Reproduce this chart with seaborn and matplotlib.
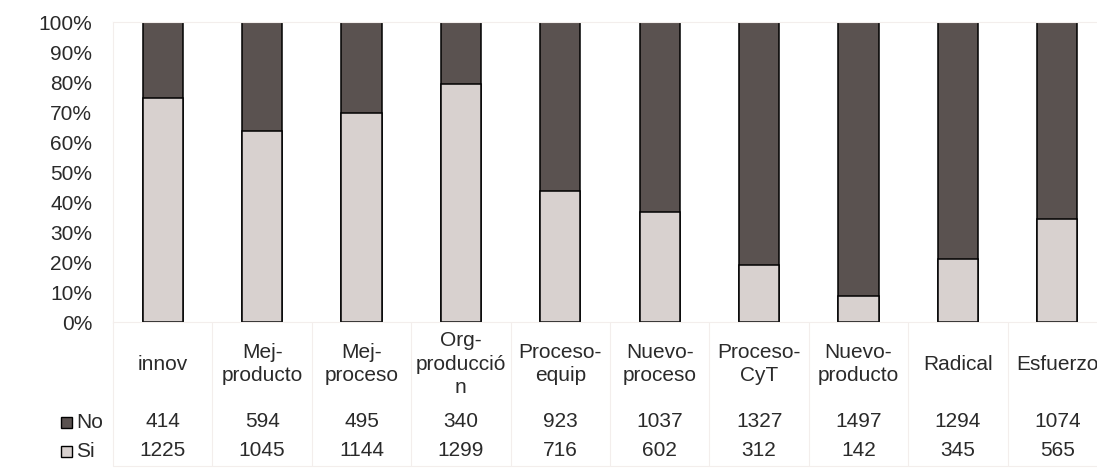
import matplotlib
matplotlib.use("Agg")
import matplotlib.pyplot as plt
from matplotlib.patches import Rectangle
from matplotlib.transforms import blended_transform_factory
import seaborn as sns
import pandas as pd

categories = ["innov", "Mej-\nproducto", "Mej-\nproceso", "Org-\nproducció\nn",
              "Proceso-\nequip", "Nuevo-\nproceso", "Proceso-\nCyT", "Nuevo-\nproducto",
              "Radical", "Esfuerzo"]
no_counts = [414, 594, 495, 340, 923, 1037, 1327, 1497, 1294, 1074]
si_counts = [1225, 1045, 1144, 1299, 716, 602, 312, 142, 345, 565]
series_names = ["No", "Si"]
ytick_labels = [f"{v}%" for v in range(0, 101, 10)]

dark = "#5a5250"
light = "#d8d1cf"
faint = "#f3eeec"
txt = "#2a2a2a"
fs = 15

sns.set_style("white")
plt.rcParams["font.family"] = ["Liberation Sans", "DejaVu Sans"]

df = pd.DataFrame({"cat": categories, "No": no_counts, "Si": si_counts})
df["total"] = df["No"] + df["Si"]
df["pct_total"] = 100.0 * df["total"] / df["total"]
df["pct_si"] = 100.0 * df["Si"] / df["total"]

W, H = 1097, 470
fig = plt.figure(figsize=(W / 100, H / 100), dpi=100)
left_px, right_px, top_px, bot_px = 113, 1107, 22, 322
ax = fig.add_axes([left_px / W, 1 - bot_px / H, (right_px - left_px) / W, (bot_px - top_px) / H])

sns.barplot(data=df, x="cat", y="pct_total", order=categories, color=dark,
            width=0.405, edgecolor="black", linewidth=1.1, saturation=1, ax=ax)
sns.barplot(data=df, x="cat", y="pct_si", order=categories, color=light,
            width=0.405, edgecolor="black", linewidth=1.1, saturation=1, ax=ax)

ax.set_ylim(0, 100)
ax.set_xlim(-0.5, len(categories) - 0.5)
ax.set_yticks(range(0, 101, 10))
ax.set_yticklabels(ytick_labels, fontsize=fs, color=txt)
ax.tick_params(axis="y", length=0, pad=15)
ax.set_xticks([])
ax.set_xlabel("")
ax.set_ylabel("")
for s in ax.spines.values():
    s.set_color(faint)
    s.set_linewidth(0.8)

# data table below the plot
def fy(py):
    return 1 - py / H

trans = blended_transform_factory(ax.transData, fig.transFigure)
for i, cat in enumerate(categories):
    ax.text(i, fy(364), cat, transform=trans, ha="center", va="center",
            fontsize=fs, color=txt, linespacing=1.32, clip_on=False)
    ax.text(i, fy(421.5), str(no_counts[i]), transform=trans, ha="center", va="center",
            fontsize=fs, color=txt, clip_on=False)
    ax.text(i, fy(451), str(si_counts[i]), transform=trans, ha="center", va="center",
            fontsize=fs, color=txt, clip_on=False)

# faint table rules
for i in range(len(categories) + 1):
    x = i - 0.5
    ax.plot([x, x], [fy(322), fy(466)], transform=trans, color=faint, lw=0.8, clip_on=False)
ax.plot([-0.5, len(categories) - 0.5], [fy(466), fy(466)], transform=trans,
        color=faint, lw=0.8, clip_on=False)

# row legend keys
for name, py, col in zip(series_names, [422, 451], [dark, light]):
    fig.patches.append(Rectangle((61 / W, fy(py) - 5.5 / H), 11 / W, 11 / H,
                                 transform=fig.transFigure, facecolor=col,
                                 edgecolor="black", linewidth=1.0))
    fig.text(76 / W, fy(py + 0.5), name, ha="left", va="center", fontsize=fs, color=txt)

fig.savefig("out.png", dpi=100)
